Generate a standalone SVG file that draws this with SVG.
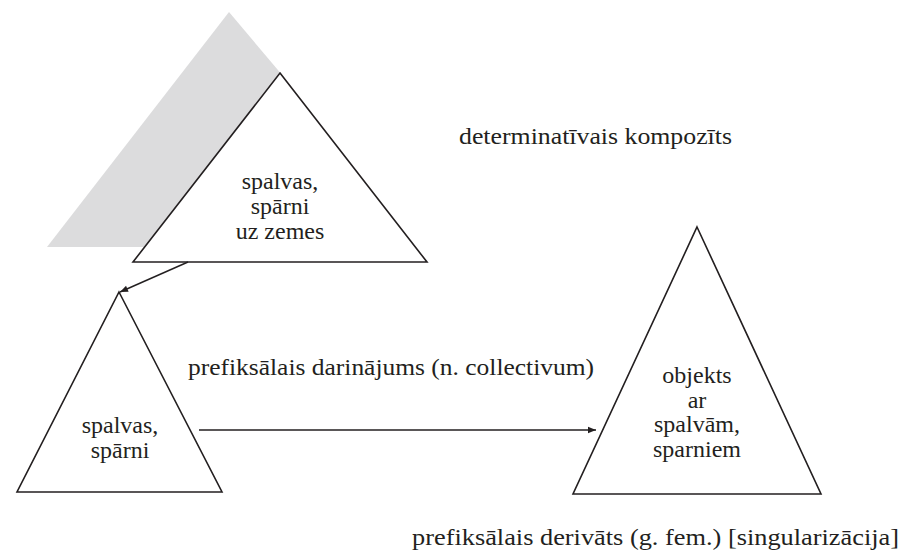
<svg xmlns="http://www.w3.org/2000/svg" width="907" height="551" viewBox="0 0 907 551">
<style>
.tri{fill:#fff;stroke:#231f20;stroke-width:1.6;stroke-linejoin:miter}
.lbl{font-family:"Liberation Serif","Times New Roman",serif;font-size:24px;fill:#231f20}
.c{text-anchor:middle}
.con{stroke:#231f20;stroke-width:1.4;fill:none}
</style>
<defs>
<marker id="ah" viewBox="0 0 10 10" refX="10" refY="5" markerWidth="10" markerHeight="8" markerUnits="userSpaceOnUse" orient="auto">
<path d="M0,1 L10,5 L0,9 Z" fill="#231f20"/>
</marker>
</defs>
<rect width="907" height="551" fill="#fff"/>
<polygon points="229,12 283,76 145,247 47,247" fill="#dcdcdd"/>
<g id="n1">
<polygon class="tri" points="280,73 427,262 133,262"/>
<text class="lbl c" x="280" y="189">spalvas,</text>
<text class="lbl c" x="280" y="214">spārni</text>
<text class="lbl c" x="280" y="239">uz zemes</text>
</g>
<g id="n2">
<polygon class="tri" points="119,292 222,492 17,492"/>
<text class="lbl c" x="120" y="433">spalvas,</text>
<text class="lbl c" x="120" y="458">spārni</text>
</g>
<g id="n3">
<polygon class="tri" points="697,227 821,494 573,494"/>
<text class="lbl c" x="697" y="383">objekts</text>
<text class="lbl c" x="697" y="408">ar</text>
<text class="lbl c" x="697" y="432">spalvām,</text>
<text class="lbl c" x="697" y="457">sparniem</text>
</g>
<g id="connectors">
<line class="con" x1="188" y1="262" x2="120" y2="292" marker-end="url(#ah)"/>
<line class="con" x1="199" y1="430" x2="596" y2="430" marker-end="url(#ah)"/>
</g>
<g id="labels">
<text class="lbl" x="459" y="144" textLength="273" lengthAdjust="spacingAndGlyphs">determinatīvais kompozīts</text>
<text class="lbl" x="188" y="375" textLength="406" lengthAdjust="spacingAndGlyphs">prefiksālais darinājums (n. collectivum)</text>
<text class="lbl" x="412" y="545" textLength="487" lengthAdjust="spacingAndGlyphs">prefiksālais derivāts (g. fem.) [singularizācija]</text>
</g>
</svg>
